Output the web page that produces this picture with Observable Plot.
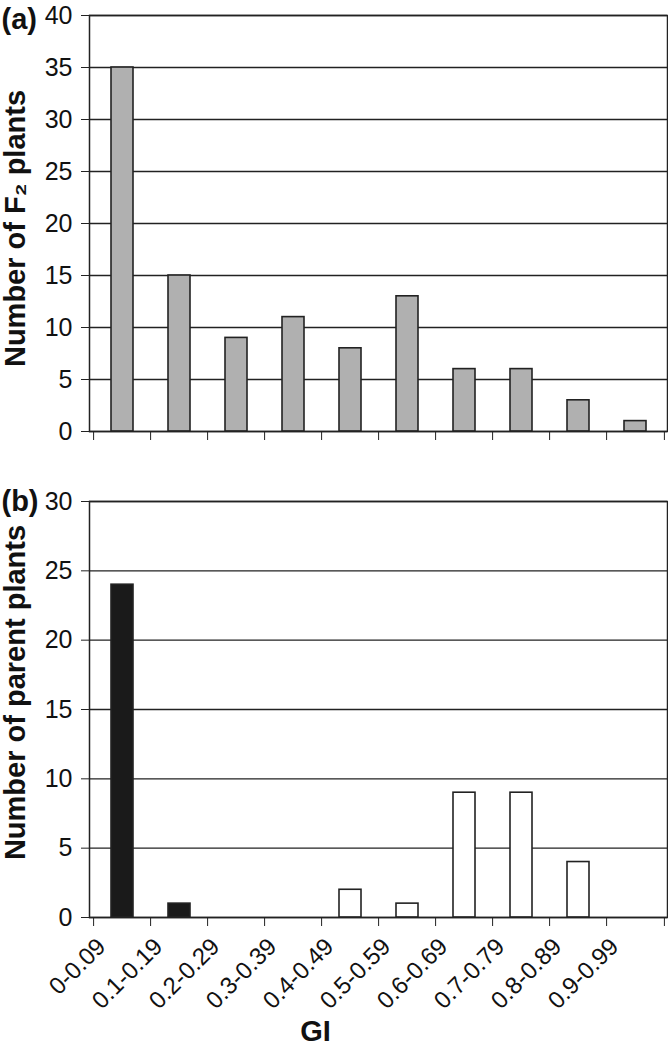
<!DOCTYPE html>
<html><head><meta charset="utf-8">
<script src="https://cdn.jsdelivr.net/npm/d3@7"></script>
<script src="https://cdn.jsdelivr.net/npm/@observablehq/plot@0.6"></script>
<style>
body{margin:0;background:#fff;}
#chart{width:668px;height:1050px;}
#chart svg{display:block;overflow:visible;}
</style></head><body><div id="chart"></div>
<script>
// ---- data ----
const categories = ["0-0.09","0.1-0.19","0.2-0.29","0.3-0.39","0.4-0.49","0.5-0.59","0.6-0.69","0.7-0.79","0.8-0.89","0.9-0.99"];
const f2Counts = [35, 15, 9, 11, 8, 13, 6, 6, 3, 1];
const parentCounts = [24, 1, 0, 0, 2, 1, 9, 9, 4, 0];
const parentGroup = ["low","low","low","low","high","high","high","high","high","high"];
const yTicksA = [0, 5, 10, 15, 20, 25, 30, 35, 40];
const yTicksB = [0, 5, 10, 15, 20, 25, 30];
const yLabelA = "Number of F\u2082 plants";
const yLabelB = "Number of parent plants";
const xLabel = "GI";

const FONT = "'Liberation Sans', Arial, Helvetica, sans-serif";
const W = 668, ML = 89, MR = 1;
const step = (W - ML - MR) / categories.length;

function panel({counts, groups, yMax, yTicks, yLabel, tag, tagDy, height, marginTop, marginBottom, showLabels, labelDy}) {
  const data = categories.map((c, i) => ({cat: c, count: counts[i], group: groups ? groups[i] : "f2"})).filter(d => d.count > 0);
  const marks = [
    Plot.gridY(yTicks, {stroke: "#222", strokeOpacity: 1, strokeWidth: 1.3}),
    Plot.barY(data, {x: "cat", y: "count", fill: "group", stroke: "#222", strokeWidth: 1.6}),
    Plot.frame({stroke: "#222", strokeWidth: 1.5}),
    Plot.axisY({ticks: yTicks, tickSize: 8, tickPadding: 9, fontSize: 25, label: null, stroke: "#222"}),
    Plot.axisX({tickSize: 9, tickFormat: () => "", dx: -step / 2, label: null, stroke: "#222"}),
    Plot.axisX([categories[categories.length - 1]], {tickSize: 9, tickFormat: () => "", dx: step / 2, label: null, stroke: "#222"}),
    Plot.text([yLabel], {frameAnchor: "left", dx: -74, dy: labelDy, rotate: -90, textAnchor: "middle", lineAnchor: "middle", fontSize: 29, fontWeight: "bold", fill: "#111"}),
    Plot.text([tag], {frameAnchor: "top-left", dx: -88, dy: tagDy, textAnchor: "start", lineAnchor: "middle", fontSize: 29, fontWeight: "bold", fill: "#111"})
  ];
  if (showLabels) {
    marks.push(Plot.text(categories, {x: d => d, frameAnchor: "bottom", dx: -21, dy: 25, rotate: -45, textAnchor: "end", lineAnchor: "middle", fontSize: 24, fill: "#111"}));
    marks.push(Plot.text([xLabel], {frameAnchor: "bottom", dx: -63, dy: 114, lineAnchor: "middle", fontSize: 29, fontWeight: "bold", fill: "#111"}));
  }
  return Plot.plot({
    width: W, height, marginLeft: ML, marginRight: MR, marginTop, marginBottom,
    style: {fontFamily: FONT, color: "#111", background: "#fff"},
    x: {type: "band", domain: categories, paddingInner: 0.62, paddingOuter: 0.31},
    y: {domain: [0, yMax]},
    color: {domain: ["f2", "low", "high"], range: ["#b0b0b0", "#1a1a1a", "#ffffff"]},
    marks
  });
}

const chart = document.getElementById("chart");
chart.append(panel({counts: f2Counts, groups: null, yMax: 40, yTicks: yTicksA, yLabel: yLabelA, tag: "(a)", tagDy: 4, height: 470, marginTop: 15, marginBottom: 39, showLabels: false, labelDy: 5}));
chart.append(panel({counts: parentCounts, groups: parentGroup, yMax: 30, yTicks: yTicksB, yLabel: yLabelB, tag: "(b)", tagDy: 0, height: 580, marginTop: 31, marginBottom: 133, showLabels: true, labelDy: -17}));
</script></body></html>
